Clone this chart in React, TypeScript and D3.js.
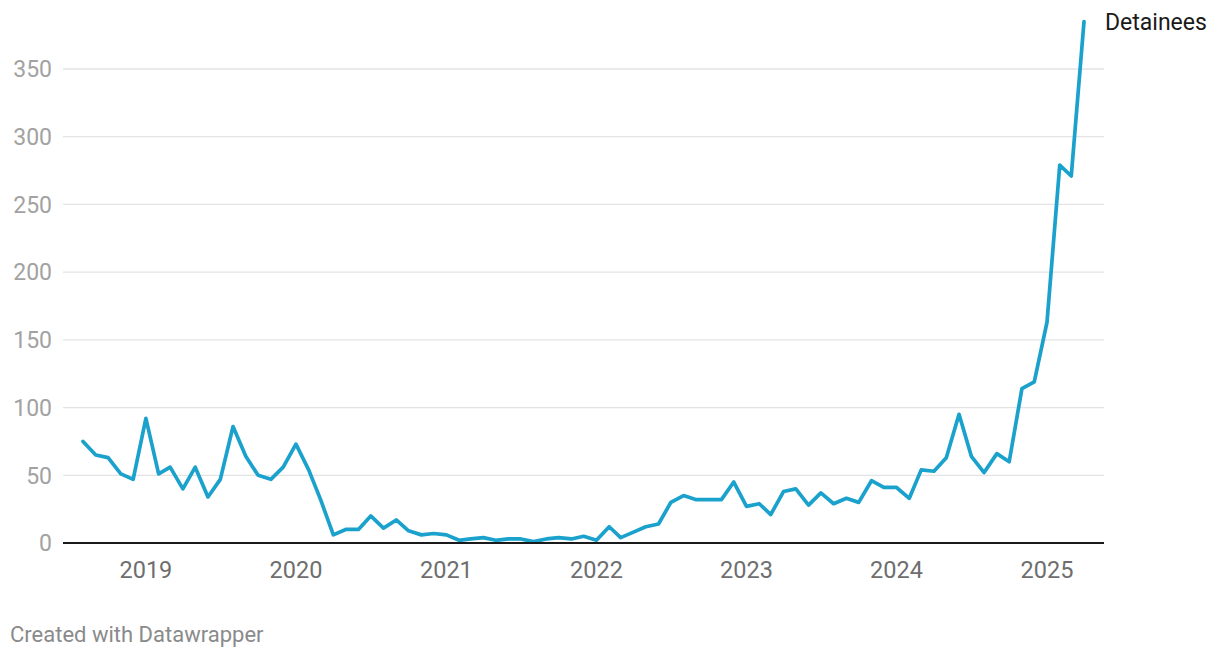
import React from "react";
import * as d3 from "d3";

const months: string[] = [
  "2018-08","2018-09","2018-10","2018-11","2018-12",
  "2019-01","2019-02","2019-03","2019-04","2019-05","2019-06","2019-07","2019-08","2019-09","2019-10","2019-11","2019-12",
  "2020-01","2020-02","2020-03","2020-04","2020-05","2020-06","2020-07","2020-08","2020-09","2020-10","2020-11","2020-12",
  "2021-01","2021-02","2021-03","2021-04","2021-05","2021-06","2021-07","2021-08","2021-09","2021-10","2021-11","2021-12",
  "2022-01","2022-02","2022-03","2022-04","2022-05","2022-06","2022-07","2022-08","2022-09","2022-10","2022-11","2022-12",
  "2023-01","2023-02","2023-03","2023-04","2023-05","2023-06","2023-07","2023-08","2023-09","2023-10","2023-11","2023-12",
  "2024-01","2024-02","2024-03","2024-04","2024-05","2024-06","2024-07","2024-08","2024-09","2024-10","2024-11","2024-12",
  "2025-01","2025-02","2025-03","2025-04",
];

const detainees: number[] = [
  75, 65, 63, 51, 47,
  92, 51, 56, 40, 56, 34, 47, 86, 64, 50, 47, 56,
  73, 54, 32, 6, 10, 10, 20, 11, 17, 9, 6, 7,
  6, 2, 3, 4, 2, 3, 3, 1, 3, 4, 3, 5,
  2, 12, 4, 8, 12, 14, 30, 35, 32, 32, 32, 45,
  27, 29, 21, 38, 40, 28, 37, 29, 33, 30, 46, 41,
  41, 33, 54, 53, 63, 95, 64, 52, 66, 60, 114, 119,
  163, 279, 271, 385,
];

const yTicks: number[] = [0, 50, 100, 150, 200, 250, 300, 350];
const xTickYears: number[] = [2019, 2020, 2021, 2022, 2023, 2024, 2025];
const seriesLabel = "Detainees";
const footerText = "Created with Datawrapper";

const W = 1220;
const H = 660;

export default function App() {
  const parse = d3.timeParse("%Y-%m");
  const dates = months.map((m) => parse(m) as Date);
  const data = dates.map((d, i) => ({ d, v: detainees[i] }));

  const x = d3
    .scaleTime()
    .domain([dates[0], dates[dates.length - 1]])
    .range([83, 1084]);
  const y = d3.scaleLinear().domain([0, 350]).range([543, 69]);

  const line = d3
    .line<{ d: Date; v: number }>()
    .x((p) => x(p.d))
    .y((p) => y(p.v))
    .curve(d3.curveLinear);

  const font = "Roboto, 'Noto Sans', sans-serif";
  const gridX0 = 63;
  const gridX1 = 1104;
  const last = data[data.length - 1];

  return (
    <svg
      width={W}
      height={H}
      style={{ position: "absolute", left: 0, top: 0, background: "#fff" }}
      fontFamily={font}
    >
      {yTicks.map((t) =>
        t === 0 ? null : (
          <line
            key={"g" + t}
            x1={gridX0}
            x2={gridX1}
            y1={y(t)}
            y2={y(t)}
            stroke="#e3e3e3"
            strokeWidth={1.3}
          />
        )
      )}
      {yTicks.map((t) => (
        <text
          key={"yl" + t}
          x={52}
          y={y(t)}
          dy="0.36em"
          textAnchor="end"
          fontSize={23}
          fill="#a2a2a2"
        >
          {t}
        </text>
      ))}
      {xTickYears.map((yr) => (
        <text
          key={"xl" + yr}
          x={x(new Date(yr, 0, 1))}
          y={578}
          textAnchor="middle"
          fontSize={23.5}
          fill="#6e6e6e"
        >
          {yr}
        </text>
      ))}
      <path
        d={line(data) || ""}
        fill="none"
        stroke="#1aa1cc"
        strokeWidth={3.7}
        strokeLinejoin="round"
        strokeLinecap="round"
      />
      <line
        x1={gridX0}
        x2={gridX1}
        y1={y(0)}
        y2={y(0)}
        stroke="#1a1a1a"
        strokeWidth={2}
      />
      <text x={x(last.d) + 21} y={30} fontSize={23} fill="#1a1a1a">
        {seriesLabel}
      </text>
      <text x={10} y={642} fontSize={22} fill="#8a8a8a">
        {footerText}
      </text>
    </svg>
  );
}
